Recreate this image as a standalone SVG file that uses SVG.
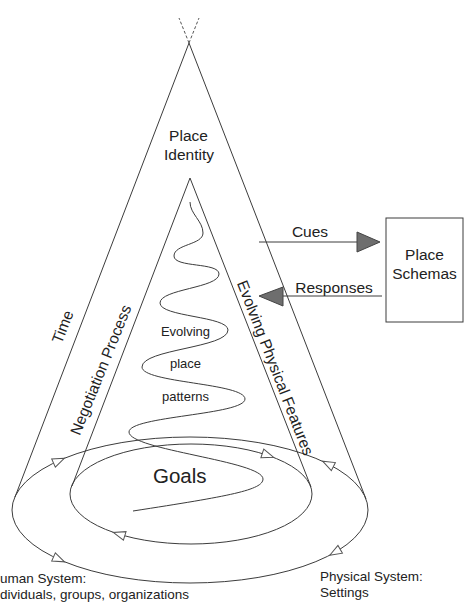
<svg xmlns="http://www.w3.org/2000/svg" xmlns:xlink="http://www.w3.org/1999/xlink" width="466" height="610" viewBox="0 0 466 610">
<style>
.ln{fill:none;stroke:#3c3c3c;stroke-width:1}
.dash{fill:none;stroke:#555;stroke-width:1;stroke-dasharray:3 2}
.open{fill:#fff;stroke:#555;stroke-width:1}
.solid{fill:#6e6e6e;stroke:#444;stroke-width:1}
text{font-family:"Liberation Sans",Arial,sans-serif;fill:#222}
.lbl{font-size:15.5px}
.sm{font-size:13px}
.bt{font-size:13.5px}
</style>
<defs>
<polygon id="tri" class="open" points="6,0 -6,-4.5 -6,4.5"/>
</defs>
<rect width="466" height="610" fill="#fff"/>

<g id="outer-cone">
<line class="dash" x1="189" y1="43" x2="179" y2="18"/>
<line class="dash" x1="189" y1="43" x2="199" y2="18"/>
<line class="ln" x1="189" y1="43" x2="15" y2="497"/>
<line class="ln" x1="189" y1="43" x2="366" y2="499"/>
</g>

<g id="inner-cone">
<line class="ln" x1="190" y1="178" x2="72" y2="486"/>
<line class="ln" x1="190" y1="178" x2="311" y2="487"/>
</g>

<g id="outer-ellipse">
<ellipse class="ln" cx="190" cy="510" rx="178" ry="73"/>
</g>

<g id="inner-ellipse">
<ellipse class="ln" cx="191" cy="494" rx="121" ry="50"/>
</g>

<g id="spiral">
<path class="ln" d="M190,202 C190,214 203,221 203,233 C203,245 174,244 174,256 C174,268 219,262 219,274 C219,288 160,289 160,303 C160,317 228,316 228,330 C228,348 142,349 142,367 C142,383 245,383 245,399 C245,415 129,416 129,432 C129,450 263,461 263,479 C263,490 230,496 133,511"/>
</g>

<g id="place-schemas">
<rect class="ln" x="386" y="218" width="77" height="104"/>
<text class="lbl" x="424.5" y="260" text-anchor="middle">Place</text>
<text class="lbl" x="424.5" y="279" text-anchor="middle">Schemas</text>
</g>

<g id="connectors">
<line class="ln" x1="259" y1="242" x2="357" y2="242"/>
<polygon class="solid" points="357,232 380,242 357,252"/>
<line class="ln" x1="283" y1="296" x2="382" y2="296"/>
<polygon class="solid" points="259,296 283,287 283,306"/>
<use xlink:href="#tri" href="#tri" transform="translate(59,460.6) rotate(-24)"/>
<use xlink:href="#tri" href="#tri" transform="translate(328,463.9) rotate(206.7)"/>
<use xlink:href="#tri" href="#tri" transform="translate(59,559.4) rotate(24)"/>
<use xlink:href="#tri" href="#tri" transform="translate(335,552.3) rotate(150)"/>
<use xlink:href="#tri" href="#tri" transform="translate(268,455.4) rotate(18.8)"/>
<use xlink:href="#tri" href="#tri" transform="translate(119,534.2) rotate(197)"/>
</g>

<g id="labels">
<text class="lbl" x="188.5" y="141" text-anchor="middle">Place</text>
<text class="lbl" x="189" y="160" text-anchor="middle">Identity</text>
<text class="lbl" x="310" y="237" text-anchor="middle">Cues</text>
<text class="lbl" x="334" y="293" text-anchor="middle">Responses</text>
<text class="lbl" text-anchor="middle" transform="translate(63,327) rotate(-69)" y="5">Time</text>
<text class="lbl" text-anchor="middle" transform="translate(101,370) rotate(-68)" y="5">Negotiation Process</text>
<text class="lbl" text-anchor="middle" transform="translate(275,368) rotate(68.8)" y="5">Evolving Physical Features</text>
<text class="sm" x="185.5" y="336" text-anchor="middle">Evolving</text>
<text class="sm" x="185.5" y="368" text-anchor="middle">place</text>
<text class="sm" x="185.5" y="401" text-anchor="middle">patterns</text>
<text x="153" y="483" font-size="20.5">Goals</text>
<text class="bt" x="0" y="583">uman System:</text>
<text class="bt" x="0" y="599">dividuals, groups, organizations</text>
<text class="bt" x="320" y="581">Physical System:</text>
<text class="bt" x="320" y="597">Settings</text>
</g>
</svg>
